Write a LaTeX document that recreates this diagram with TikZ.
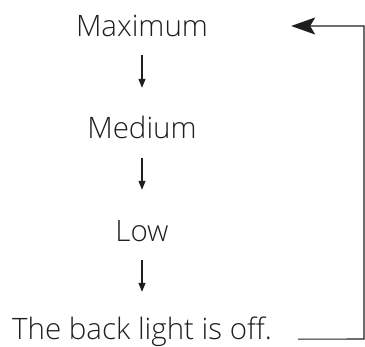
\documentclass[tikz,border=0pt]{standalone}
\usepackage{fontspec}
\setmainfont{Open Sans}[UprightFont={* Light}]
\usetikzlibrary{arrows.meta}
\definecolor{ink}{HTML}{1E1E1E}
\begin{document}
\begin{tikzpicture}[x=1pt,y=1pt,
  lbl/.style={inner sep=0pt, anchor=base, text height=22pt, text depth=0pt,
    font=\fontsize{29.5}{34}\selectfont, text=ink},
  downarr/.style={draw=ink, line width=1.1pt, -{Triangle[length=9pt,width=7pt]}},
  backarr/.style={draw=ink, line width=1.1pt, -{Stealth[length=24pt,width=17pt,inset=5pt]}}]
\useasboundingbox (0,0) rectangle (365,-347);
\node[lbl] (max) at (142,-37) {Maximum};
\node[lbl] (med) at (142,-139) {Medium};
\node[lbl] (low) at (142,-242) {Low};
\node[lbl] (off) at (142,-340) {The back light is off.};
\coordinate (cb) at (364,-339);
\coordinate (ct) at (364,-26);
\draw[downarr, shorten <=18pt, shorten >=29pt] (max.south) -- (med.north);
\draw[downarr, shorten <=19pt, shorten >=30pt] (med.south) -- (low.north);
\draw[downarr, shorten <=18pt, shorten >=26pt] (low.south) -- (off.north);
\draw[backarr] ([xshift=26pt,yshift=1pt]off.south east) -- (cb) -- (ct) -- ([xshift=83pt]max.east);
\end{tikzpicture}
\end{document}
